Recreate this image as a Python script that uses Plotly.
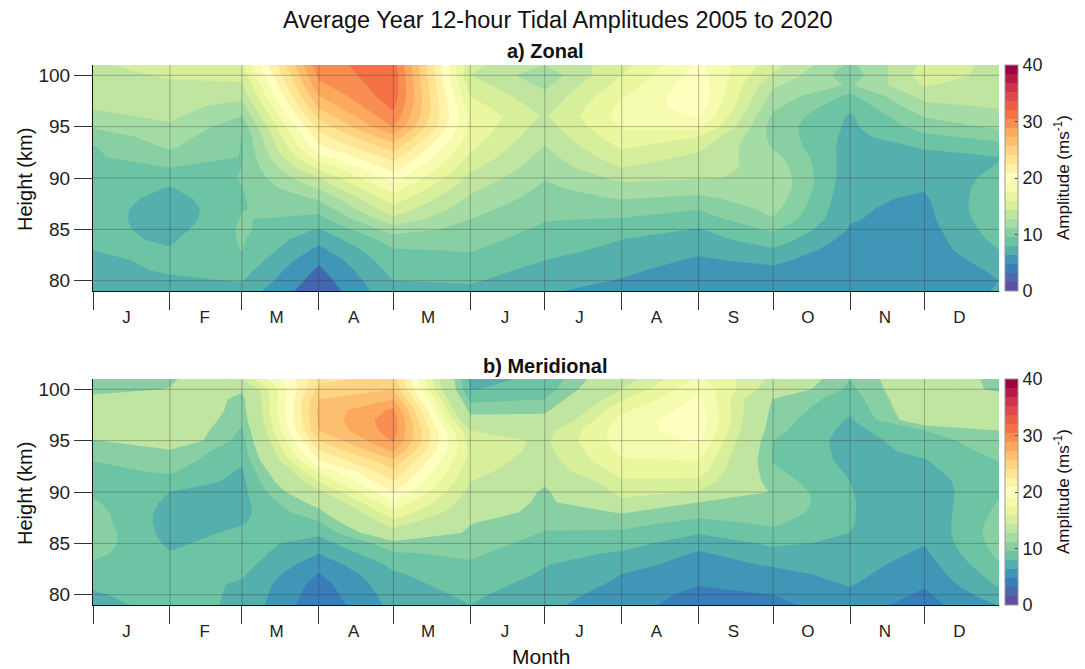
import numpy as np
import plotly.graph_objects as go

# ---------- axes data ----------
months = ["J", "F", "M", "A", "M", "J", "J", "A", "S", "O", "N", "D"]
month_edges = [0, 31, 60, 91, 121, 152, 182, 213, 244, 274, 305, 335, 365]
month_label_days = [13.5, 45, 74, 105, 135, 166, 196, 227, 258, 288, 319, 349]
heights = list(range(79, 102))
height_ticks = [80, 85, 90, 95, 100]
cbar_ticks = [0, 10, 20, 30, 40]

# ---------- amplitudes at each month edge, bottom (79 km) to top (101 km) ----------
zonal_0 = [6.8,7.1,7.4,7.7,8.0,8.4,8.7,8.9,9.0,9.1,9.1,9.1,9.2,9.4,9.5,10.2,11.4,12.4,13.0,13.3,13.5,13.8,14.2]
zonal_1 = [7.0,7.7,8.2,8.3,8.1,7.8,7.3,6.9,6.9,7.3,7.9,8.5,9.6,10.5,11.4,12.0,12.6,13.1,13.4,13.8,14.1,14.6,15.0]
zonal_2 = [7.4,8.1,8.6,9.2,9.65,9.75,9.85,9.7,9.55,9.5,9.55,9.7,9.6,9.55,9.55,9.58,10.2,11.2,12.2,13.3,14.1,15.0,16.0]
zonal_3 = [3.6,4.0,4.5,5.1,6.0,6.9,7.9,9.0,10.2,11.4,13.0,14.4,16.4,18.5,20.4,21.7,23.0,24.5,26.0,27.2,28.4,29.2,30.0]
zonal_4 = [7.7,8.0,8.5,9.0,9.5,10.3,12.0,14.0,15.5,16.8,18.3,20.0,21.5,23.0,24.7,26.7,28.9,30.0,30.8,31.4,31.5,31.5,31.0]
zonal_5 = [7.6,8.2,8.8,9.3,9.7,10.2,10.7,11.2,11.8,12.5,13.2,14.0,14.8,15.6,16.3,16.9,17.2,17.4,16.7,15.9,15.2,14.4,14.8]
zonal_6 = [6.7,7.0,7.4,8.0,8.5,8.9,9.3,9.7,10.1,10.5,10.9,11.3,11.8,12.2,12.7,13.2,13.7,14.2,13.7,13.2,12.5,11.8,12.8]
zonal_7 = [5.5,6.3,6.7,7.1,7.6,8.0,8.8,9.5,10.3,11.3,12.2,13.2,14.4,15.4,16.2,17.0,17.8,18.2,18.0,17.4,16.7,16.0,15.4]
zonal_8 = [5.0,5.3,5.7,6.2,6.7,7.3,7.9,8.8,9.7,10.8,12.0,12.9,13.4,14.0,14.8,16.0,18.2,19.4,20.1,20.4,20.3,20.0,19.6]
zonal_9 = [4.9,5.4,6.0,6.8,7.8,8.9,9.9,11.1,11.7,12.2,12.6,12.6,12.3,11.8,11.1,10.7,10.5,10.9,11.6,12.3,13.0,14.2,15.0]
zonal_10 = [5.0,5.0,5.1,5.2,5.4,5.8,6.3,6.5,6.6,6.7,6.8,7.0,7.1,7.2,7.3,7.5,7.7,7.8,8.4,9.3,11.0,10.3,10.8]
zonal_11 = [4.9,5.0,5.1,5.3,5.4,5.5,5.7,5.9,6.0,6.2,6.5,6.8,7.2,7.6,8.1,9.2,10.3,11.3,12.4,13.4,14.5,15.2,14.8]
zonal_12 = [6.6,6.4,6.7,7.2,8.0,8.5,8.9,9.2,9.4,9.2,8.9,8.5,8.1,7.95,9.0,10.1,11.5,12.3,13.0,13.3,13.6,13.9,14.2]

merid_0 = [7.2,7.8,8.3,8.8,9.4,10.0,10.5,10.6,10.4,10.2,9.8,9.3,9.1,9.2,9.6,10.3,11.0,13.2,13.6,13.6,12.2,10.2,10.5]
merid_1 = [8.9,8.8,8.7,8.6,8.5,8.1,7.7,7.4,7.3,7.4,7.7,8.0,8.9,9.8,10.4,10.9,13.1,13.4,13.6,13.7,13.6,11.3,10.8]
merid_2 = [7.6,7.7,7.8,8.2,8.6,8.8,8.7,8.3,7.9,7.6,7.5,7.5,7.6,7.8,8.2,8.6,9.0,9.4,10.0,10.4,10.6,11.5,14.6]
merid_3 = [3.6,3.9,4.2,4.7,5.5,6.4,7.3,8.3,9.4,10.7,12.0,14.0,16.0,17.8,20.6,22.2,24.0,25.6,25.9,26.0,25.6,24.5,23.5]
merid_4 = [6.9,7.1,7.4,7.8,8.4,9.4,10.6,13.4,15.5,17.1,18.9,20.8,22.4,23.7,25.1,27.4,29.0,29.6,29.8,29.1,27.2,25.6,24.6]
merid_5 = [8.0,8.3,8.7,9.1,9.4,9.9,10.4,10.9,11.3,12.9,13.4,13.9,14.4,14.9,15.3,15.6,15.3,14.4,12.0,10.5,9.2,7.9,7.6]
merid_6 = [6.7,7.0,7.4,7.8,8.1,8.5,9.0,9.5,9.9,10.3,10.7,10.9,11.5,13.3,13.6,13.9,14.1,13.7,12.0,10.7,9.6,8.7,8.3]
merid_7 = [5.6,5.8,6.1,6.4,7.0,7.8,8.6,9.3,10.2,11.3,14.0,14.9,15.8,16.5,17.4,18.0,18.4,18.5,18.2,17.2,15.9,14.4,13.5]
merid_8 = [3.9,4.3,4.9,5.4,5.8,6.2,7.1,8.1,9.1,10.2,11.2,14.3,15.6,16.8,17.6,18.5,19.4,20.0,20.3,20.1,19.6,18.9,18.0]
merid_9 = [4.5,4.8,5.4,6.0,6.6,7.4,8.3,9.2,9.9,10.7,11.1,11.0,10.4,9.9,9.5,9.5,9.6,10.1,10.4,10.7,11.1,13.2,14.0]
merid_10 = [5.5,6.1,6.5,6.8,7.1,7.4,7.7,8.0,8.1,8.1,8.1,8.05,8.0,7.8,7.6,7.5,7.4,7.5,7.8,8.3,8.7,9.2,9.6]
merid_11 = [4.2,4.5,5.0,5.4,5.7,6.1,6.5,6.6,6.7,6.8,6.9,7.1,7.3,7.6,7.9,8.3,8.7,9.6,12.9,13.2,13.4,13.6,13.6]
merid_12 = [6.5,7.4,8.2,8.8,9.5,10.0,10.3,10.5,10.3,10.0,9.7,9.3,9.2,9.3,9.6,10.2,10.8,11.2,13.1,13.3,13.1,10.6,10.4]

zonal = np.array([zonal_0, zonal_1, zonal_2, zonal_3, zonal_4, zonal_5, zonal_6,
                  zonal_7, zonal_8, zonal_9, zonal_10, zonal_11, zonal_12]).T
merid = np.array([merid_0, merid_1, merid_2, merid_3, merid_4, merid_5, merid_6,
                  merid_7, merid_8, merid_9, merid_10, merid_11, merid_12]).T

# ---------- colours: 25 flat bands from a reversed Spectral ramp ----------
spectral = ["#5e4fa2", "#3288bd", "#66c2a5", "#abdda4", "#e6f598", "#ffffbf",
            "#fee08b", "#fdae61", "#f46d43", "#d53e4f", "#9e0142"]
rgb = np.array([[int(c[i:i + 2], 16) for i in (1, 3, 5)] for c in spectral], float)
N = 25
bands = []
for k in range(N):
    t = k / (N - 1) * 10
    vals = [np.interp(t, range(11), rgb[:, j]) for j in range(3)]
    bands.append("rgb(%d,%d,%d)" % tuple(round(v) for v in vals))


def make_scale(cols):
    scale = []
    for k in range(N):
        scale += [[k / N, cols[k]], [(k + 1) / N, cols[k]]]
    return scale


colorscale = make_scale(bands)
# The reference skips one band in each panel: the fields jump across it.
zonal_bands = list(bands)
zonal_bands[2] = "rgb(66,104,178)"
merid_bands = list(bands)
merid_bands[7] = bands[8]

W, H = 1085, 669
FONT = "Liberation Sans"
L, R = 93, 999
panels = [(65, 291), (379, 605)]


def ydom(top, bot):
    return [1 - bot / H, 1 - top / H]


fig = go.Figure()
grid_color = "rgba(50,50,50,0.33)"
contour_style = dict(start=0, end=40, size=1.6, coloring="fill", showlines=False)
for i, (z, cols, (top, bot)) in enumerate(zip([zonal, merid], [zonal_bands, merid_bands], panels)):
    xa, ya = ("x", "y") if i == 0 else ("x2", "y2")
    # lower copy carries the full colour bar, upper copy paints the panel
    fig.add_trace(go.Contour(
        x=month_edges, y=heights, z=z, xaxis=xa, yaxis=ya,
        zmin=0, zmax=40, colorscale=colorscale, contours=contour_style,
        line=dict(width=0, smoothing=0), hoverinfo="skip",
        colorbar=dict(
            thickness=13, thicknessmode="pixels",
            x=1005 / W, xanchor="left", xpad=0, ypad=0,
            y=ydom(top, bot)[0], yanchor="bottom", len=(bot - top) / H, lenmode="fraction",
            tickmode="array", tickvals=cbar_ticks, ticktext=[str(v) for v in cbar_ticks],
            ticks="inside", ticklen=3, tickcolor="#444", tickfont=dict(family=FONT, size=18, color="#222"),
            outlinewidth=1, outlinecolor="#999",
        ),
    ))
    fig.add_trace(go.Contour(
        x=month_edges, y=heights, z=z, xaxis=xa, yaxis=ya,
        zmin=0, zmax=40, colorscale=make_scale(cols), contours=contour_style,
        line=dict(width=0, smoothing=0), hoverinfo="skip", showscale=False,
    ))
    gx, gy = [], []
    for e in month_edges[1:-1]:
        gx += [e, e, None]
        gy += [heights[0], heights[-1], None]
    for h in height_ticks:
        gx += [month_edges[0], month_edges[-1], None]
        gy += [h, h, None]
    fig.add_trace(go.Scatter(x=gx, y=gy, xaxis=xa, yaxis=ya, mode="lines",
                             line=dict(color=grid_color, width=1),
                             hoverinfo="skip", showlegend=False))

axis_common = dict(showgrid=False, zeroline=False, showline=True, linecolor="#111", linewidth=1.2)
for i, (top, bot) in enumerate(panels):
    sx = "" if i == 0 else "2"
    fig.update_layout({
        "xaxis" + sx: dict(
            **axis_common, domain=[L / W, R / W], range=[month_edges[0], month_edges[-1]],
            anchor="y" + sx, tickmode="array", tickvals=month_label_days, ticktext=months,
            ticks="outside", ticklen=10, tickwidth=1, tickcolor="rgba(0,0,0,0)",
            tickfont=dict(family=FONT, size=17, color="#222"),
            minor=dict(tickmode="array", tickvals=month_edges[:-1], ticks="outside",
                       ticklen=18, tickwidth=1, tickcolor="#333"),
        ),
        "yaxis" + sx: dict(
            **axis_common, domain=ydom(top, bot), range=[heights[0], heights[-1]],
            anchor="x" + sx, tickmode="array", tickvals=height_ticks,
            ticktext=[str(v) for v in height_ticks],
            ticks="outside", ticklen=18, tickwidth=1, tickcolor="#333",
            tickfont=dict(family=FONT, size=19, color="#222"),
        ),
    })


def note(text, x, y, size, angle=0, weight=None):
    if weight:
        text = "<b>%s</b>" % text
    fig.add_annotation(text=text, x=x / W, y=1 - y / H, xref="paper", yref="paper",
                       showarrow=False, textangle=angle, xanchor="center", yanchor="middle",
                       font=dict(family=FONT, size=size, color="#111"))


note("Average Year 12-hour Tidal Amplitudes 2005 to 2020", 558, 20, 23.5)
note("a) Zonal", 545, 51, 20, weight=True)
note("b) Meridional", 545, 366, 20, weight=True)
note("Month", 541, 656, 21)
note("Height (km)", 25, 180, 20, angle=-90)
note("Height (km)", 25, 494, 20, angle=-90)
note("Amplitude (ms<sup>-1</sup>)", 1062, 178, 17, angle=-90)
note("Amplitude (ms<sup>-1</sup>)", 1062, 492, 17, angle=-90)

fig.update_layout(width=W, height=H, margin=dict(l=0, r=0, t=0, b=0),
                  paper_bgcolor="white", plot_bgcolor="white", showlegend=False)
fig.write_html("out.html", config={"displayModeBar": False},
               post_script="document.body.style.margin='0';")
